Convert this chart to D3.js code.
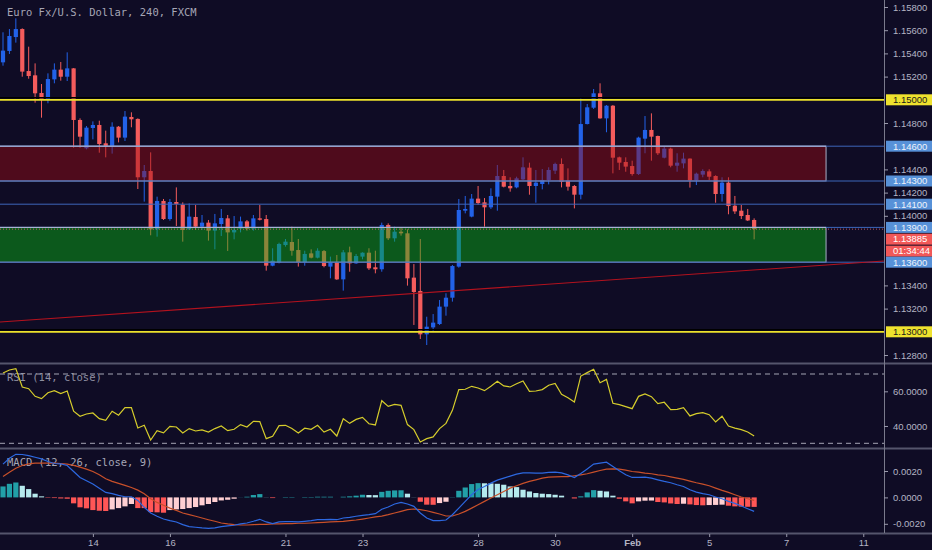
<!DOCTYPE html>
<html>
<head>
<meta charset="utf-8">
<script src="https://cdn.jsdelivr.net/npm/d3@7"></script>
<style>
  html, body { margin: 0; padding: 0; background: #0f0c25; }
  svg { display: block; }
  text { font-family: "Liberation Sans", Arial, sans-serif; }
</style>
</head>
<body>
<div class="chart"></div>
<script>
// EUR/USD 4h candles
const opens = [1.15323,1.15421,1.15541,1.15610,1.15248,1.15211,1.15059,1.15004,1.15176,1.15260,
  1.15199,1.15271,1.14826,1.14582,1.14757,1.14783,1.14625,1.14596,1.14768,1.14674,
  1.14852,1.14835,1.14332,1.14386,1.13883,1.14128,1.13972,1.14119,1.14096,1.13883,
  1.13990,1.13906,1.13941,1.13872,1.13929,1.13978,1.13857,1.13889,1.13952,1.13889,
  1.13978,1.13972,1.13570,1.13596,1.13748,1.13774,1.13705,1.13599,1.13676,1.13639,
  1.13696,1.13562,1.13602,1.13452,1.13685,1.13590,1.13648,1.13682,1.13556,1.13539,
  1.13921,1.13806,1.13863,1.13849,1.13467,1.13352,1.12978,1.13038,1.13067,1.13217,
  1.13294,1.13562,1.14044,1.13993,1.14148,1.14116,1.14073,1.14165,1.14343,1.14257,
  1.14245,1.14314,1.14415,1.14257,1.14274,1.14309,1.14389,1.14447,1.14303,1.14257,
  1.14182,1.14791,1.14932,1.15056,1.14840,1.14949,1.14504,1.14464,1.14429,1.14360,
  1.14665,1.14740,1.14688,1.14501,1.14579,1.14432,1.14452,1.14493,1.14306,1.14355,
  1.14383,1.14343,1.14188,1.14286,1.14087,1.14044,1.14007,1.13964];
const highs = [1.15582,1.15610,1.15702,1.15616,1.15458,1.15314,1.15136,1.15228,1.15314,1.15326,
  1.15409,1.15274,1.14840,1.14774,1.14814,1.14820,1.14734,1.14806,1.14774,1.14903,
  1.14892,1.14840,1.14438,1.14547,1.14165,1.14145,1.14145,1.14245,1.14116,1.14107,
  1.14093,1.14007,1.13964,1.14016,1.14059,1.14007,1.13998,1.13993,1.13964,1.14007,
  1.14093,1.14007,1.13720,1.13768,1.13800,1.13906,1.13800,1.13699,1.13711,1.13720,
  1.13705,1.13648,1.13662,1.13705,1.13734,1.13671,1.13685,1.13720,1.13699,1.13941,
  1.13935,1.13906,1.13901,1.13883,1.13584,1.13800,1.13130,1.13153,1.13274,1.13332,
  1.13576,1.14145,1.14171,1.14188,1.14257,1.14153,1.14237,1.14438,1.14395,1.14332,
  1.14337,1.14504,1.14458,1.14395,1.14403,1.14418,1.14458,1.14495,1.14409,1.14265,
  1.15013,1.14964,1.15093,1.15142,1.14955,1.14955,1.14510,1.14504,1.14475,1.14682,
  1.14860,1.14883,1.14691,1.14596,1.14587,1.14539,1.14544,1.14495,1.14372,1.14401,
  1.14401,1.14349,1.14332,1.14332,1.14171,1.14093,1.14059,1.13978];
const lows = [1.15294,1.15395,1.15493,1.15199,1.15182,1.14975,1.14846,1.14970,1.15142,1.15165,
  1.15162,1.14587,1.14587,1.14573,1.14659,1.14544,1.14504,1.14536,1.14633,1.14645,
  1.14763,1.14231,1.14122,1.13832,1.13820,1.13964,1.13958,1.13912,1.13777,1.13880,
  1.13878,1.13878,1.13786,1.13711,1.13826,1.13697,1.13797,1.13857,1.13872,1.13872,
  1.13960,1.13527,1.13565,1.13590,1.13734,1.13656,1.13562,1.13570,1.13633,1.13633,
  1.13556,1.13461,1.13447,1.13355,1.13518,1.13585,1.13625,1.13533,1.13504,1.13518,
  1.13791,1.13777,1.13829,1.13398,1.13059,1.12938,1.12886,1.13001,1.13059,1.13139,
  1.13260,1.13553,1.14021,1.13987,1.14096,1.13906,1.14059,1.14044,1.14245,1.14208,
  1.14237,1.14309,1.14182,1.14113,1.14228,1.14271,1.14360,1.14245,1.14217,1.14064,
  1.14142,1.14788,1.14921,1.14837,1.14720,1.14366,1.14395,1.14380,1.14346,1.14352,
  1.14539,1.14475,1.14524,1.14495,1.14418,1.14380,1.14409,1.14243,1.14265,1.14332,
  1.14309,1.14113,1.14122,1.14013,1.14016,1.13972,1.13955,1.13797];
const closes = [1.15424,1.15550,1.15610,1.15243,1.15205,1.15056,1.15004,1.15179,1.15260,1.15199,
  1.15271,1.14826,1.14682,1.14760,1.14783,1.14619,1.14602,1.14768,1.14674,1.14855,
  1.14832,1.14332,1.14386,1.13883,1.14128,1.13972,1.14119,1.14102,1.13878,1.13993,
  1.13906,1.13941,1.13872,1.13935,1.13981,1.13857,1.13878,1.13952,1.13889,1.13978,
  1.13966,1.13570,1.13613,1.13757,1.13777,1.13699,1.13599,1.13671,1.13639,1.13699,
  1.13567,1.13602,1.13452,1.13685,1.13590,1.13653,1.13682,1.13547,1.13539,1.13921,
  1.13806,1.13863,1.13849,1.13461,1.13343,1.12978,1.13044,1.13079,1.13217,1.13294,
  1.13567,1.14050,1.14059,1.14148,1.14110,1.14073,1.14171,1.14343,1.14251,1.14237,
  1.14323,1.14418,1.14257,1.14286,1.14309,1.14395,1.14447,1.14294,1.14251,1.14182,
  1.14791,1.14935,1.15056,1.14840,1.14949,1.14501,1.14458,1.14424,1.14360,1.14674,
  1.14740,1.14682,1.14539,1.14579,1.14432,1.14458,1.14493,1.14306,1.14363,1.14386,
  1.14337,1.14188,1.14286,1.14084,1.14038,1.13998,1.13960,1.13885];

// RSI (14, close)
const rsiValues = [70.6,72.3,73.1,62.5,61.5,57.1,55.8,59.2,60.4,58.7,
  60.2,48.5,45.6,46.9,47.5,44.2,43.3,48.5,46.2,50.6,
  50.6,38.8,40.4,31.9,37.3,36.0,39.8,39.4,36.0,38.5,
  37.1,37.7,36.5,38.5,40.0,37.3,38.1,40.8,39.4,42.7,
  42.5,32.7,34.0,40.2,40.4,38.5,36.0,38.7,38.1,40.4,
  36.5,38.1,34.2,44.2,41.5,43.8,45.0,41.3,40.6,54.6,
  51.3,52.5,51.9,40.8,37.9,30.8,32.7,33.7,38.5,41.5,
  49.0,61.0,61.2,62.9,61.9,60.4,62.9,65.8,63.1,62.5,
  64.4,66.0,60.0,60.2,61.0,63.5,64.6,58.3,56.3,53.8,
  68.8,70.8,72.7,65.0,66.9,53.1,52.3,51.2,50.0,57.1,
  58.5,56.9,52.9,53.7,49.4,49.6,50.6,45.8,47.1,47.7,
  46.5,42.3,45.6,40.0,38.8,37.9,36.5,34.2];

// MACD (12, 26, close, 9)
const macdLine = [0.00252,0.00297,0.00327,0.00325,0.00317,0.00304,0.00292,0.00272,0.00257,0.00254,
  0.00242,0.00196,0.00151,0.00126,0.00101,0.00070,0.00038,0.00028,0.00015,0.00005,
  0.00005,-0.00023,-0.00075,-0.00118,-0.00143,-0.00164,-0.00176,-0.00186,-0.00206,-0.00221,
  -0.00226,-0.00231,-0.00234,-0.00231,-0.00221,-0.00216,-0.00211,-0.00201,-0.00194,-0.00181,
  -0.00166,-0.00186,-0.00199,-0.00186,-0.00184,-0.00184,-0.00186,-0.00181,-0.00176,-0.00169,
  -0.00169,-0.00166,-0.00169,-0.00156,-0.00151,-0.00143,-0.00136,-0.00131,-0.00123,-0.00090,
  -0.00073,-0.00050,-0.00038,-0.00050,-0.00068,-0.00118,-0.00156,-0.00176,-0.00176,-0.00171,
  -0.00131,-0.00081,-0.00030,0.00020,0.00060,0.00083,0.00108,0.00131,0.00146,0.00161,
  0.00176,0.00186,0.00186,0.00184,0.00184,0.00189,0.00191,0.00186,0.00171,0.00151,
  0.00181,0.00216,0.00252,0.00259,0.00267,0.00234,0.00201,0.00171,0.00151,0.00151,
  0.00153,0.00146,0.00133,0.00121,0.00111,0.00096,0.00083,0.00058,0.00040,0.00028,
  0.00020,0.00003,-0.00010,-0.00030,-0.00045,-0.00065,-0.00086,-0.00106];
const signalLine = [0.00158,0.00191,0.00221,0.00242,0.00254,0.00259,0.00259,0.00259,0.00259,0.00257,
  0.00252,0.00242,0.00229,0.00214,0.00196,0.00171,0.00141,0.00121,0.00106,0.00091,
  0.00075,0.00055,0.00028,-0.00010,-0.00038,-0.00060,-0.00081,-0.00098,-0.00118,-0.00131,
  -0.00143,-0.00156,-0.00169,-0.00181,-0.00194,-0.00201,-0.00206,-0.00209,-0.00209,-0.00206,
  -0.00204,-0.00204,-0.00201,-0.00201,-0.00199,-0.00199,-0.00196,-0.00196,-0.00194,-0.00191,
  -0.00189,-0.00186,-0.00184,-0.00181,-0.00176,-0.00171,-0.00164,-0.00156,-0.00148,-0.00142,
  -0.00131,-0.00118,-0.00106,-0.00093,-0.00088,-0.00093,-0.00101,-0.00113,-0.00126,-0.00141,
  -0.00141,-0.00126,-0.00106,-0.00081,-0.00055,-0.00030,-0.00005,0.00020,0.00045,0.00070,
  0.00088,0.00106,0.00121,0.00133,0.00146,0.00153,0.00156,0.00158,0.00158,0.00164,
  0.00171,0.00179,0.00191,0.00204,0.00214,0.00216,0.00214,0.00206,0.00196,0.00191,
  0.00184,0.00179,0.00171,0.00166,0.00156,0.00146,0.00136,0.00123,0.00111,0.00101,
  0.00088,0.00070,0.00053,0.00038,0.00020,0.00003,-0.00010,-0.00023];
const histogram = [0.00083,0.00103,0.00113,0.00088,0.00063,0.00028,0.00008,-0.00003,-0.00005,-0.00008,
  -0.00010,-0.00045,-0.00075,-0.00083,-0.00096,-0.00101,-0.00103,-0.00091,-0.00081,-0.00068,
  -0.00050,-0.00081,-0.00081,-0.00111,-0.00113,-0.00116,-0.00096,-0.00091,-0.00088,-0.00081,
  -0.00073,-0.00060,-0.00050,-0.00035,-0.00023,-0.00018,-0.00010,0.00001,0.00005,0.00018,
  0.00025,0.00001,-0.00005,0.00000,0.00003,0.00003,0.00000,0.00003,0.00003,0.00005,
  0.00005,0.00005,0.00000,0.00005,0.00008,0.00013,0.00020,0.00018,0.00017,0.00042,
  0.00050,0.00053,0.00054,0.00028,0.00001,-0.00033,-0.00055,-0.00056,-0.00043,-0.00033,
  0.00002,0.00050,0.00075,0.00101,0.00108,0.00107,0.00106,0.00103,0.00096,0.00083,
  0.00078,0.00058,0.00045,0.00033,0.00028,0.00025,0.00020,0.00013,0.00000,-0.00008,
  0.00008,0.00038,0.00055,0.00050,0.00045,0.00013,-0.00010,-0.00030,-0.00045,-0.00030,
  -0.00025,-0.00024,-0.00035,-0.00038,-0.00046,-0.00050,-0.00048,-0.00053,-0.00058,-0.00060,
  -0.00058,-0.00057,-0.00055,-0.00063,-0.00068,-0.00070,-0.00071,-0.00072];

// bottom axis: bar index where each day label sits
const dayTicks = [14, 26, 44, 56, 74, 86, 98, 110, 122, 134];
const dayLabels = ["14", "16", "21", "23", "28", "30", "Feb", "5", "7", "11"];

// price axis ticks and drawn levels
const priceTicks = [1.158, 1.156, 1.154, 1.152, 1.148, 1.144, 1.142, 1.140, 1.134, 1.132, 1.128];
const rsiTicks = [60, 40];
const rsiBands = [70, 30];
const macdTicks = [0.002, 0, -0.002];
const yellowLevels = [1.150, 1.130];
const blueLevels = [1.146, 1.143, 1.141, 1.139, 1.136];
const lastPrice = 1.13885;
const countdown = "01:34:44";
const zoneTops = [1.146, 1.139];
const zoneBottoms = [1.143, 1.136];
const zoneEnd = 128.2;           // bar index where both boxes stop
const trendPoints = [[-0.5, 1.13084], [137.2, 1.13610]];

// ---------- layout ----------
const width = 932, height = 550;
const axisX = 884;
const mainBottom = 363, rsiTop = 365, rsiBottom = 448, macdTop = 450, macdBottom = 533;

const bg = "#0f0c25";
const bullColor = "#2262e8";
const bearColor = "#f45c5c";
const axisText = "#b4b4c4";
const gridLine = "#55556c";

const svg = d3.select(".chart")
    .append("svg")
    .attr("width", width)
    .attr("height", height)
    .style("background", bg);

const x = d3.scaleLinear().domain([0, 134]).range([3, 3 + 6.42 * 134]);
const y = d3.scaleLinear().domain([1.128, 1.158]).range([355, 7]);
const yRsi = d3.scaleLinear().domain([30, 70]).range([443.3, 374]);
const yMacd = d3.scaleLinear().domain([-0.002, 0.002]).range([523.8, 471]);

// clip areas for the three panes
const defs = svg.append("defs");
[["clipMain", 0, mainBottom], ["clipRsi", rsiTop, rsiBottom], ["clipMacd", macdTop, macdBottom]]
    .forEach(([id, top, bottom]) => {
        defs.append("clipPath").attr("id", id)
            .append("rect").attr("x", 0).attr("y", top)
            .attr("width", axisX).attr("height", bottom - top);
    });

const candles = opens.map((o, i) => ({ i, open: o, high: highs[i], low: lows[i], close: closes[i] }));

// ---------- main pane ----------
const main = svg.append("g").attr("clip-path", "url(#clipMain)");

// candles
const candleG = main.append("g");
candleG.selectAll("line")
    .data(candles)
    .enter().append("line")
    .attr("x1", d => x(d.i))
    .attr("x2", d => x(d.i))
    .attr("y1", d => y(d.high))
    .attr("y2", d => y(d.low))
    .attr("stroke", d => d.close >= d.open ? bullColor : bearColor)
    .attr("stroke-width", 1);
candleG.selectAll("rect")
    .data(candles)
    .enter().append("rect")
    .attr("x", d => x(d.i) - 2.1)
    .attr("width", 4.2)
    .attr("y", d => y(Math.max(d.open, d.close)))
    .attr("height", d => Math.max(1, Math.abs(y(d.open) - y(d.close))))
    .attr("fill", d => d.close >= d.open ? bullColor : bearColor);

// supply / demand boxes drawn over the candles
const zoneFills = ["rgba(157,12,17,0.45)", "rgba(8,185,17,0.45)"];
main.selectAll("rect.zone")
    .data(zoneTops)
    .enter().append("rect")
    .attr("class", "zone")
    .attr("x", -2)
    .attr("y", d => y(d))
    .attr("width", (d, i) => x(zoneEnd) + 2)
    .attr("height", (d, i) => y(zoneBottoms[i]) - y(d))
    .attr("fill", (d, i) => zoneFills[i])
    .attr("stroke", "#a9b0c8")
    .attr("stroke-width", 1);

// horizontal blue levels
main.selectAll("line.blue")
    .data(blueLevels)
    .enter().append("line")
    .attr("x1", 0).attr("x2", axisX)
    .attr("y1", d => y(d)).attr("y2", d => y(d))
    .attr("stroke", "#3d66ba")
    .attr("stroke-width", 1);

// zone top edges a bit lighter
main.selectAll("line.ztop")
    .data(zoneTops)
    .enter().append("line")
    .attr("x1", 0).attr("x2", x(zoneEnd))
    .attr("y1", d => y(d)).attr("y2", d => y(d))
    .attr("stroke", "#b4bcd8")
    .attr("stroke-width", 1);

// rising trend line
main.append("line")
    .attr("x1", x(trendPoints[0][0])).attr("y1", y(trendPoints[0][1]))
    .attr("x2", x(trendPoints[1][0])).attr("y2", y(trendPoints[1][1]))
    .attr("stroke", "#b3121e")
    .attr("stroke-width", 1.1);

// yellow round-number levels with dark shadow
main.selectAll("line.yshadow")
    .data(yellowLevels)
    .enter().append("line")
    .attr("x1", 0).attr("x2", axisX)
    .attr("y1", d => y(d) - 2).attr("y2", d => y(d) - 2)
    .attr("stroke", "#000000")
    .attr("stroke-width", 1.5);
main.selectAll("line.yellow")
    .data(yellowLevels)
    .enter().append("line")
    .attr("x1", 0).attr("x2", axisX)
    .attr("y1", d => y(d)).attr("y2", d => y(d))
    .attr("stroke", "#ece22c")
    .attr("stroke-width", 1.8);

// last price dotted line
main.append("line")
    .attr("x1", 0).attr("x2", axisX)
    .attr("y1", y(lastPrice)).attr("y2", y(lastPrice))
    .attr("stroke", "#d8606e")
    .attr("stroke-width", 1)
    .attr("stroke-dasharray", "1,2")
    .attr("opacity", 0.85);

// title
svg.append("text")
    .attr("x", 7).attr("y", 16)
    .style("font-family", "'DejaVu Sans Mono', monospace")
    .style("font-size", "10.5px")
    .attr("fill", "#a6a6b6")
    .text("Euro Fx/U.S. Dollar, 240, FXCM");

// ---------- RSI pane ----------
svg.append("text")
    .attr("x", 7).attr("y", 381)
    .style("font-family", "'DejaVu Sans Mono', monospace")
    .style("font-size", "10.5px")
    .attr("fill", "#8e8ea0")
    .text("RSI (14, close)");

const rsiG = svg.append("g").attr("clip-path", "url(#clipRsi)");
rsiG.selectAll("line.band")
    .data(rsiBands)
    .enter().append("line")
    .attr("x1", 0).attr("x2", axisX)
    .attr("y1", d => yRsi(d)).attr("y2", d => yRsi(d))
    .attr("stroke", "#a4a4b4")
    .attr("stroke-width", 1)
    .attr("stroke-dasharray", "5,4");
rsiG.append("path")
    .datum(rsiValues)
    .attr("fill", "none")
    .attr("stroke", "#d6cd2c")
    .attr("stroke-width", 1.2)
    .attr("d", d3.line().x((d, i) => x(i)).y(d => yRsi(d)));

// ---------- MACD pane ----------
svg.append("text")
    .attr("x", 7).attr("y", 466)
    .style("font-family", "'DejaVu Sans Mono', monospace")
    .style("font-size", "10.5px")
    .attr("fill", "#a6a6b6")
    .text("MACD (12, 26, close, 9)");

const macdG = svg.append("g").attr("clip-path", "url(#clipMacd)");

function histColor(v, i) {
    const prev = i > 0 ? histogram[i - 1] : 0;
    if (v >= 0) return v >= prev ? "#22a0a8" : "#b6eaee";
    return v <= prev ? "#ff5656" : "#ffcfd2";
}

macdG.selectAll("rect")
    .data(histogram)
    .enter().append("rect")
    .attr("x", (d, i) => x(i) - 2.6)
    .attr("width", 5.2)
    .attr("y", d => yMacd(Math.max(d, 0)))
    .attr("height", d => Math.abs(yMacd(d) - yMacd(0)))
    .attr("fill", (d, i) => histColor(d, i));

macdG.append("path")
    .datum(signalLine)
    .attr("fill", "none")
    .attr("stroke", "#c8502a")
    .attr("stroke-width", 1.2)
    .attr("d", d3.line().x((d, i) => x(i)).y(d => yMacd(d)));
macdG.append("path")
    .datum(macdLine)
    .attr("fill", "none")
    .attr("stroke", "#2d68e0")
    .attr("stroke-width", 1.2)
    .attr("d", d3.line().x((d, i) => x(i)).y(d => yMacd(d)));

// ---------- frame lines ----------
[mainBottom + 0.5, rsiBottom + 0.5, macdBottom + 0.5].forEach(yy => {
    svg.append("line")
        .attr("x1", 0).attr("x2", width)
        .attr("y1", yy).attr("y2", yy)
        .attr("stroke", gridLine)
        .attr("stroke-width", 2);
});
svg.append("line")
    .attr("x1", axisX + 0.5).attr("x2", axisX + 0.5)
    .attr("y1", 0).attr("y2", macdBottom)
    .attr("stroke", "#7a7a8c")
    .attr("stroke-width", 1);

// ---------- axes ----------
function styleAxis(g) {
    g.select(".domain").remove();
    g.selectAll(".tick line").attr("stroke", "#9a9aac");
    g.selectAll(".tick text")
        .attr("fill", axisText)
        .style("font-size", "9.5px")
        .style("font-family", "'Liberation Sans', Arial, sans-serif");
}

svg.append("g")
    .attr("transform", `translate(${axisX},0)`)
    .call(d3.axisRight(y).tickValues(priceTicks).tickSize(4).tickPadding(5).tickFormat(d => d.toFixed(5)))
    .call(styleAxis);

svg.append("g")
    .attr("transform", `translate(${axisX},0)`)
    .call(d3.axisRight(yRsi).tickValues(rsiTicks).tickSize(4).tickPadding(5).tickFormat(d => d.toFixed(4)))
    .call(styleAxis);

svg.append("g")
    .attr("transform", `translate(${axisX},0)`)
    .call(d3.axisRight(yMacd).tickValues(macdTicks).tickSize(4).tickPadding(5).tickFormat(d => d.toFixed(4)))
    .call(styleAxis);

const xAxis = svg.append("g")
    .attr("transform", `translate(0,${macdBottom + 1})`)
    .call(d3.axisBottom(x).tickValues(dayTicks).tickSize(3).tickPadding(2)
        .tickFormat((d, i) => dayLabels[i]))
    .call(styleAxis);
xAxis.selectAll(".tick text")
    .style("font-weight", d => d === 98 ? "bold" : "normal");

// ---------- price labels on the axis ----------
const priceLabels = [
    { price: 1.150, text: "1.15000", bg: "#efe22e", fg: "#1a1a1a", dy: 0 },
    { price: 1.146, text: "1.14600", bg: "#5791d8", fg: "#eef3fb", dy: 0 },
    { price: 1.143, text: "1.14300", bg: "#5791d8", fg: "#eef3fb", dy: 0 },
    { price: 1.141, text: "1.14100", bg: "#5791d8", fg: "#eef3fb", dy: 0 },
    { price: 1.139, text: "1.13900", bg: "#5791d8", fg: "#eef3fb", dy: 0 },
    { price: lastPrice, text: "1.13885", bg: "#f25858", fg: "#ffffff", dy: 10 },
    { price: lastPrice, text: countdown, bg: "#f25858", fg: "#ffffff", dy: 22 },
    { price: 1.136, text: "1.13600", bg: "#5791d8", fg: "#eef3fb", dy: 0 },
    { price: 1.130, text: "1.13000", bg: "#efe22e", fg: "#1a1a1a", dy: 0 }
];

const labelG = svg.append("g");
labelG.selectAll("rect")
    .data(priceLabels)
    .enter().append("rect")
    .attr("x", axisX + 2)
    .attr("y", d => y(d.price) + d.dy - 5.5)
    .attr("width", width - axisX - 2)
    .attr("height", 11)
    .attr("fill", d => d.bg);
labelG.selectAll("text")
    .data(priceLabels)
    .enter().append("text")
    .attr("x", axisX + 9)
    .attr("y", d => y(d.price) + d.dy)
    .attr("dy", "0.35em")
    .attr("fill", d => d.fg)
    .style("font-size", "9.5px")
    .text(d => d.text);
</script>
</body>
</html>
